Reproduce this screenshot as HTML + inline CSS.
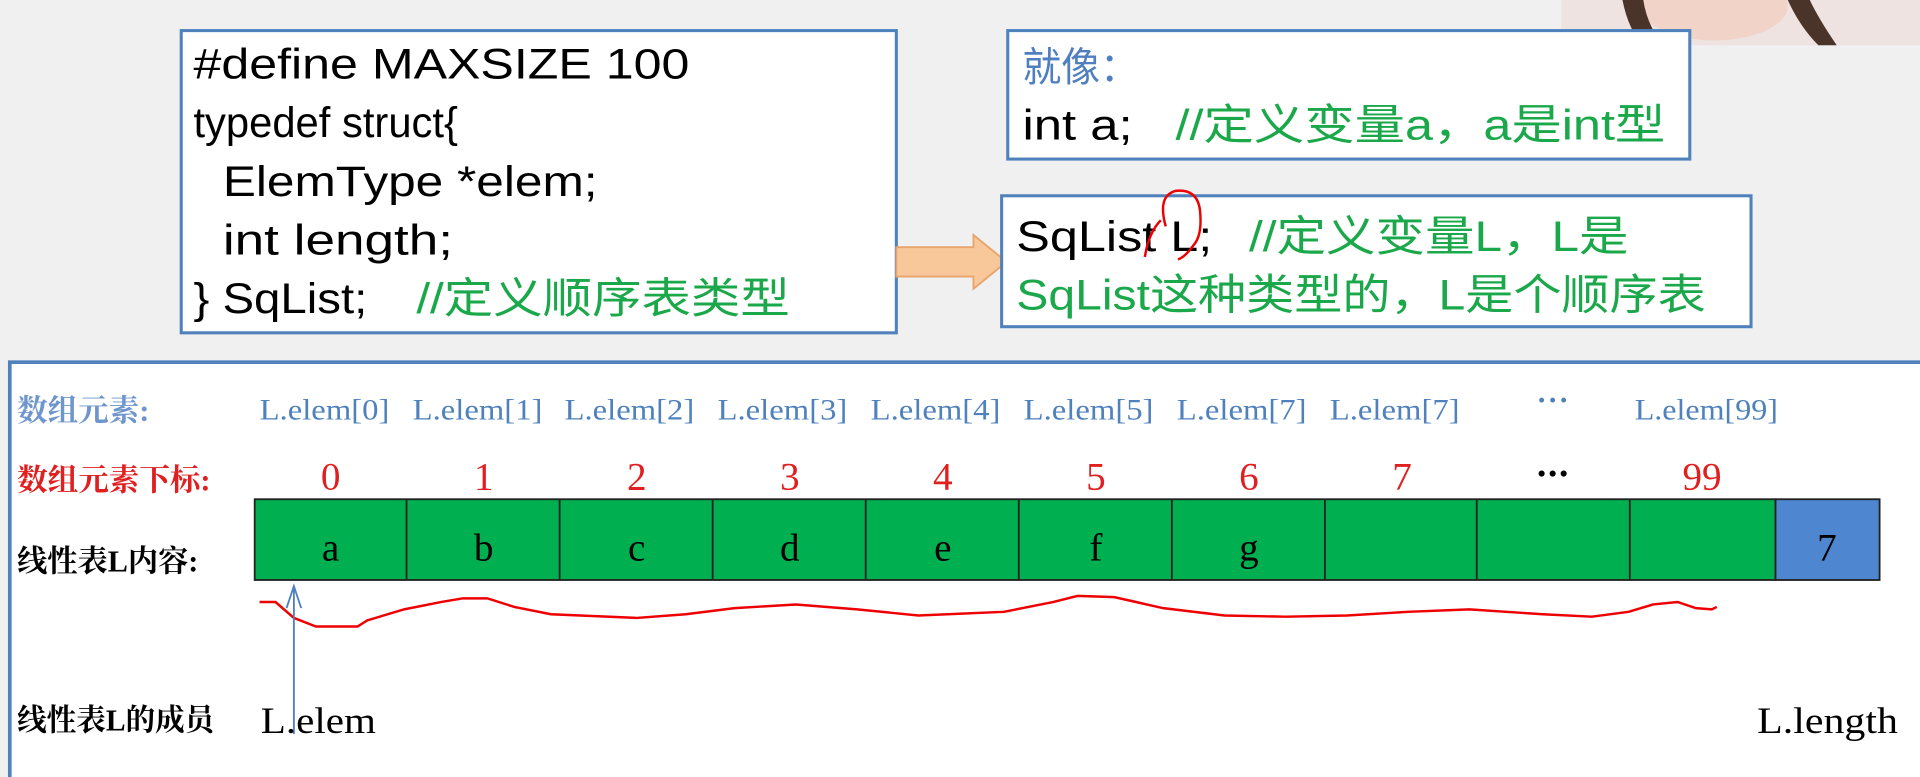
<!DOCTYPE html>
<html><head><meta charset="utf-8"><style>
html,body{margin:0;padding:0;background:#f0f0f0;width:1920px;height:777px;overflow:hidden}
svg{display:block}
.sans{font-family:"Liberation Sans","Noto Sans CJK SC",sans-serif}
.serif{font-family:"Liberation Serif","Noto Serif CJK SC",serif}
</style></head><body>
<svg width="1920" height="777" viewBox="0 0 1568 635" preserveAspectRatio="none" xmlns="http://www.w3.org/2000/svg">
<rect x="0" y="0" width="1568" height="635" fill="#f0f0f0"/>
<!-- webcam -->
<rect x="1275" y="0" width="293" height="37" fill="#eee3e0"/>
<ellipse cx="1400" cy="5" rx="60" ry="28" fill="#f1d3c8"/>
<path d="M1325 0 Q1330 25 1342 37 L1358 37 Q1345 20 1342 0 Z" fill="#4a3328"/>
<path d="M1460 0 Q1470 22 1485 37 L1500 37 Q1485 15 1478 0 Z" fill="#4a3328"/>
<!-- code box -->
<rect x="148" y="25" width="584" height="247" fill="#fff" stroke="#4f81bd" stroke-width="2.5"/>
<g class="sans" font-size="35" fill="#000" lengthAdjust="spacingAndGlyphs">
<text x="158" y="64" textLength="405" lengthAdjust="spacingAndGlyphs">#define MAXSIZE 100</text>
<text x="158" y="112" textLength="216" lengthAdjust="spacingAndGlyphs">typedef struct{</text>
<text x="182" y="160" textLength="306" lengthAdjust="spacingAndGlyphs">ElemType *elem;</text>
<text x="182" y="208" textLength="188" lengthAdjust="spacingAndGlyphs">int length;</text>
<text x="158" y="256" textLength="142" lengthAdjust="spacingAndGlyphs">} SqList;</text>
<text x="340" y="256" fill="#1aa84a" textLength="305" lengthAdjust="spacingAndGlyphs">//定义顺序表类型</text>
</g>
<!-- arrow -->
<path d="M732 202 L795 202 L795 192 L822 214 L795 236 L795 226 L732 226 Z" fill="#f9c89a" stroke="#e8a46a" stroke-width="1.5"/>
<!-- right box 1 -->
<rect x="823" y="25" width="557" height="105" fill="#fff" stroke="#4f81bd" stroke-width="2.5"/>
<text x="835" y="66" class="sans" font-size="33" fill="#4f7fbf" textLength="95" lengthAdjust="spacingAndGlyphs">就像：</text>
<g class="sans" font-size="35">
<text x="835" y="114" fill="#000" textLength="90" lengthAdjust="spacingAndGlyphs">int a;</text>
<text x="960" y="114" fill="#1aa84a" textLength="400" lengthAdjust="spacingAndGlyphs">//定义变量a，a是int型</text>
</g>
<!-- right box 2 -->
<rect x="818" y="160" width="612" height="107" fill="#fff" stroke="#4f81bd" stroke-width="2.5"/>
<g class="sans" font-size="35">
<text x="830" y="205" fill="#000" textLength="160" lengthAdjust="spacingAndGlyphs">SqList L;</text>
<text x="1020" y="205" fill="#1aa84a" textLength="310" lengthAdjust="spacingAndGlyphs">//定义变量L，L是</text>
<text x="830" y="253" fill="#1aa84a" textLength="563" lengthAdjust="spacingAndGlyphs">SqList这种类型的，L是个顺序表</text>
</g>
<path d="M952 185 Q945 160 960 156 Q978 154 980 172 Q982 192 975 200 Q968 210 962 212 M935 210 Q938 190 948 180" fill="none" stroke="#e00" stroke-width="2"/>
<!-- bottom panel -->
<rect x="8" y="296" width="1570" height="345" fill="#fff" stroke="#4f81bd" stroke-width="3"/>
<g class="serif" font-size="25" font-weight="bold">
<text x="14" y="344" fill="#6f96cc" textLength="108" lengthAdjust="spacingAndGlyphs">数组元素:</text>
<text x="14" y="401" fill="#e02020" textLength="158" lengthAdjust="spacingAndGlyphs">数组元素下标:</text>
<text x="14" y="467" fill="#000" textLength="148" lengthAdjust="spacingAndGlyphs">线性表L内容:</text>
<text x="14" y="597" fill="#000" textLength="161" lengthAdjust="spacingAndGlyphs">线性表L的成员</text>
</g>
<g class="serif" font-size="24" fill="#4f81bd">
<text x="212" y="343" textLength="106" lengthAdjust="spacingAndGlyphs">L.elem[0]</text>
<text x="337" y="343" textLength="106" lengthAdjust="spacingAndGlyphs">L.elem[1]</text>
<text x="461" y="343" textLength="106" lengthAdjust="spacingAndGlyphs">L.elem[2]</text>
<text x="586" y="343" textLength="106" lengthAdjust="spacingAndGlyphs">L.elem[3]</text>
<text x="711" y="343" textLength="106" lengthAdjust="spacingAndGlyphs">L.elem[4]</text>
<text x="836" y="343" textLength="106" lengthAdjust="spacingAndGlyphs">L.elem[5]</text>
<text x="961" y="343" textLength="106" lengthAdjust="spacingAndGlyphs">L.elem[7]</text>
<text x="1086" y="343" textLength="106" lengthAdjust="spacingAndGlyphs">L.elem[7]</text>
<text x="1335" y="343" textLength="117" lengthAdjust="spacingAndGlyphs">L.elem[99]</text>
</g>
<g fill="#4f81bd"><circle cx="1259" cy="327" r="2"/><circle cx="1268" cy="327" r="2"/><circle cx="1277" cy="327" r="2"/></g>
<g fill="#000"><circle cx="1259" cy="387" r="2.5"/><circle cx="1268" cy="387" r="2.5"/><circle cx="1277" cy="387" r="2.5"/></g>
<g class="serif" font-size="32" fill="#e02020" text-anchor="middle">
<text x="270" y="400">0</text><text x="395" y="400">1</text><text x="520" y="400">2</text>
<text x="645" y="400">3</text><text x="770" y="400">4</text><text x="895" y="400">5</text>
<text x="1020" y="400">6</text><text x="1145" y="400">7</text>
<text x="1390" y="400">99</text>
</g>
<g stroke="#222" stroke-width="1.5">
<rect x="208" y="408" width="1242" height="66" fill="#00b050"/>
<rect x="1450" y="408" width="85" height="66" fill="#4f86d0"/>
<line x1="332" y1="408" x2="332" y2="474"/><line x1="457" y1="408" x2="457" y2="474"/>
<line x1="582" y1="408" x2="582" y2="474"/><line x1="707" y1="408" x2="707" y2="474"/>
<line x1="832" y1="408" x2="832" y2="474"/><line x1="957" y1="408" x2="957" y2="474"/>
<line x1="1082" y1="408" x2="1082" y2="474"/><line x1="1206" y1="408" x2="1206" y2="474"/>
<line x1="1331" y1="408" x2="1331" y2="474"/>
</g>
<g class="serif" font-size="32" fill="#000" text-anchor="middle">
<text x="270" y="458">a</text><text x="395" y="458">b</text><text x="520" y="458">c</text>
<text x="645" y="458">d</text><text x="770" y="458">e</text><text x="895" y="458">f</text>
<text x="1020" y="458">g</text><text x="1492" y="458">7</text>
</g>
<path d="M212 492 L225 492 L240 505 L258 512 L292 512 L300 507 L330 498 L360 492 L378 489 L398 489 L420 496 L450 502 L520 505 L560 502 L600 497 L650 494 L700 498 L750 503 L820 500 L860 492 L880 487 L910 488 L950 497 L1000 503 L1050 504 L1100 503 L1150 500 L1200 498 L1260 502 L1300 504 L1330 500 L1350 494 L1370 492 L1385 497 L1398 498 L1402 496" fill="none" stroke="#e00" stroke-width="2"/>
<line x1="240" y1="600" x2="240" y2="480" stroke="#4f7fbf" stroke-width="1.5"/>
<path d="M234 497 L240 479 L246 497" fill="none" stroke="#4f7fbf" stroke-width="1.5"/>
<text x="213" y="599" class="serif" font-size="30" fill="#000" textLength="94" lengthAdjust="spacingAndGlyphs">L.elem</text>
<text x="1435" y="599" class="serif" font-size="30" fill="#000" textLength="115" lengthAdjust="spacingAndGlyphs">L.length</text>
</svg>
</body></html>
